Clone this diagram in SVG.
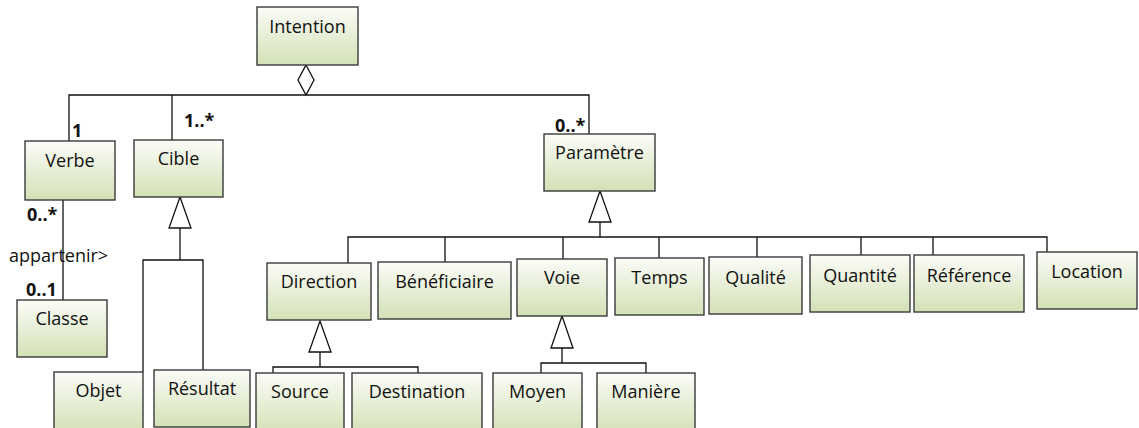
<svg xmlns="http://www.w3.org/2000/svg" width="1139" height="428" viewBox="0 0 1139 428">
<defs>
<linearGradient id="g" x1="0" y1="0" x2="0" y2="1">
<stop offset="0" stop-color="#fbfcf8"/>
<stop offset="1" stop-color="#d3e1b6"/>
</linearGradient>
<style>
.n{fill:url(#g);stroke:#3a3a3a;stroke-width:1.4}
.t{font-family:"Open Sans","Liberation Sans",sans-serif;font-size:18px;fill:#111;text-anchor:middle}
.c{fill:none;stroke:#111;stroke-width:1.3}
.h{fill:#fff;stroke:#111;stroke-width:1.3}
.m{font-family:"Open Sans","Liberation Sans",sans-serif;font-size:18px;font-weight:bold;fill:#111}
.l{font-family:"Open Sans","Liberation Sans",sans-serif;font-size:18px;fill:#111}
</style>
</defs>
<rect width="1139" height="428" fill="#fff"/>
<g id="connectors">
<polygon class="h" points="306,65 314,80 306,95 298,80"/>
<polyline class="c" points="69,141 69,95 589,95 589,134"/>
<line class="c" x1="172" y1="95" x2="172" y2="140"/>
<line class="c" x1="63" y1="200" x2="63" y2="300"/>
<polygon class="h" points="180,197 191,228 169,228"/>
<polyline class="c" points="143,372 143,260 203,260 203,370"/>
<line class="c" x1="180" y1="228" x2="180" y2="260"/>
<polygon class="h" points="600,191 611,222 589,222"/>
<line class="c" x1="600" y1="222" x2="600" y2="237"/>
<polyline class="c" points="348,263 348,237 1047,237 1047,252"/>
<line class="c" x1="445" y1="237" x2="445" y2="262"/>
<line class="c" x1="563" y1="237" x2="563" y2="259"/>
<line class="c" x1="659" y1="237" x2="659" y2="258"/>
<line class="c" x1="757" y1="237" x2="757" y2="257"/>
<line class="c" x1="861" y1="237" x2="861" y2="255"/>
<line class="c" x1="933" y1="237" x2="933" y2="255"/>
<polygon class="h" points="320,321 331,352 309,352"/>
<polyline class="c" points="273,373 273,367 418,367 418,373"/>
<line class="c" x1="320" y1="352" x2="320" y2="367"/>
<polygon class="h" points="562,316 573,348 551,348"/>
<polyline class="c" points="541,373 541,363 646,363 646,373"/>
<line class="c" x1="562" y1="348" x2="562" y2="363"/>
<text class="m" x="72" y="137">1</text>
<text class="m" x="184" y="127">1..*</text>
<text class="m" x="555" y="132">0..*</text>
<text class="m" x="27" y="221">0..*</text>
<text class="l" x="9" y="262">appartenir&gt;</text>
<text class="m" x="26" y="296">0..1</text>
</g>
<g id="intention"><rect class="n" x="257" y="7" width="101" height="58"/><text class="t" x="307.5" y="33">Intention</text></g>
<g id="verbe"><rect class="n" x="25" y="141" width="90" height="59"/><text class="t" x="70" y="167">Verbe</text></g>
<g id="cible"><rect class="n" x="134" y="140" width="89" height="57"/><text class="t" x="178.5" y="165">Cible</text></g>
<g id="parametre"><rect class="n" x="544" y="134" width="111" height="57"/><text class="t" x="599.5" y="159">Paramètre</text></g>
<g id="classe"><rect class="n" x="17" y="300" width="90" height="57"/><text class="t" x="62" y="325">Classe</text></g>
<g id="objet"><rect class="n" x="54" y="372" width="89" height="60"/><text class="t" x="98.5" y="397">Objet</text></g>
<g id="resultat"><rect class="n" x="154" y="370" width="96" height="57"/><text class="t" x="202" y="395">Résultat</text></g>
<g id="direction"><rect class="n" x="267" y="263" width="104" height="57"/><text class="t" x="319" y="288">Direction</text></g>
<g id="beneficiaire"><rect class="n" x="378" y="262" width="133" height="57"/><text class="t" x="444.5" y="288">Bénéficiaire</text></g>
<g id="voie"><rect class="n" x="517" y="259" width="90" height="57"/><text class="t" x="562" y="284">Voie</text></g>
<g id="temps"><rect class="n" x="615" y="258" width="89" height="57"/><text class="t" x="659.5" y="284">Temps</text></g>
<g id="qualite"><rect class="n" x="709" y="257" width="93" height="57"/><text class="t" x="755.5" y="284">Qualité</text></g>
<g id="quantite"><rect class="n" x="810" y="255" width="100" height="57"/><text class="t" x="860" y="282">Quantité</text></g>
<g id="reference"><rect class="n" x="914" y="255" width="110" height="57"/><text class="t" x="969" y="282">Référence</text></g>
<g id="location"><rect class="n" x="1037" y="252" width="100" height="57"/><text class="t" x="1087" y="278">Location</text></g>
<g id="source"><rect class="n" x="256" y="373" width="88" height="60"/><text class="t" x="300" y="398">Source</text></g>
<g id="destination"><rect class="n" x="352" y="373" width="130" height="60"/><text class="t" x="417" y="398">Destination</text></g>
<g id="moyen"><rect class="n" x="493" y="373" width="89" height="60"/><text class="t" x="537.5" y="398">Moyen</text></g>
<g id="maniere"><rect class="n" x="597" y="373" width="98" height="60"/><text class="t" x="646" y="398">Manière</text></g>
</svg>
